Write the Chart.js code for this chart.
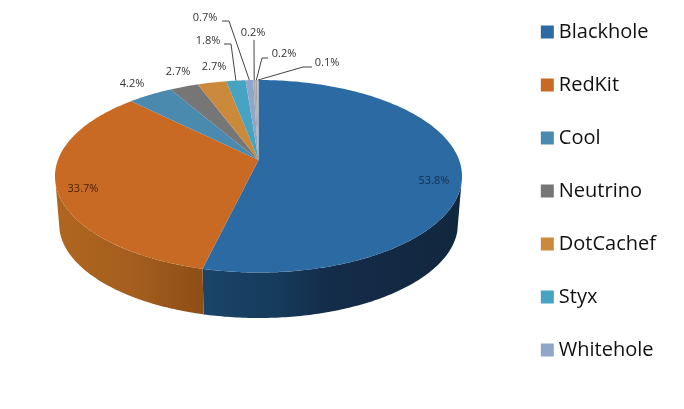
<!DOCTYPE html>
<html>
<head>
<meta charset="utf-8">
<style>
  html, body { margin: 0; padding: 0; background: #fff; }
  #wrap { position: relative; width: 684px; height: 409px; overflow: hidden; }
</style>
<script src="https://cdn.jsdelivr.net/npm/chart.js@4"></script>
</head>
<body>
<div id="wrap"><canvas id="pie3d"></canvas></div>
<script>
// Valores
const categories = ['Blackhole', 'RedKit', 'Cool', 'Neutrino', 'DotCachef', 'Styx', 'Whitehole', '', '', ''];
const shares = [53.8, 33.7, 4.2, 2.7, 2.7, 1.8, 0.7, 0.2, 0.2, 0.1];
const shareLabels = ['53.8%', '33.7%', '4.2%', '2.7%', '2.7%', '1.8%', '0.7%', '0.2%', '0.2%', '0.1%'];
const sliceColors = ['#2c6aa4', '#c96a24', '#4a8aae', '#767676', '#cb8a3b', '#47a3c2', '#8fa6c8', '#a9a9b4', '#a5a5a5', '#b5b5b5'];

// Posicion de cada etiqueta y codo de su linea guia
const labelPos = [[434, 181], [83, 189], [132, 84], [178, 72], [214, 67], [208, 41], [205, 18], [253, 33], [284, 54], [327, 63]];
const leaderPath = [null, null, null, null, null,
  [[224, 44], [231, 44]],
  [[222, 21], [229, 21]],
  [[254, 40]],
  [[268, 58], [262, 58]],
  [[312, 67], [303, 67]]];

// Sombreado de la pared lateral, de izquierda a derecha
const wallStops = {
  0: [[203, '#1a4569'], [280, '#163a5a'], [330, '#132c49'], [462, '#11273e']],
  1: [[55, '#b0661f'], [130, '#a55e1e'], [203, '#8e4e17']]
};

// Proyeccion en perspectiva del disco
const cx = 258.5, apexY = 160, tilt = 0.169, scaleX = 200.6, scaleY = 93.5;
const depth = 47.75, baseScale = 0.98;
const wallEdge = 0.25; // angulo donde la pared toca la silueta

function project(angle, s, dy) {
  const u = Math.cos(angle), v = Math.sin(angle);
  const den = 1 - tilt * v;
  return [cx + s * scaleX * u / den, apexY + dy + s * scaleY * v / den];
}

const pie3dPlugin = {
  id: 'pie3d',
  beforeDatasetDraw(chart) {
    const ctx = chart.ctx;
    const arcs = chart.getDatasetMeta(0).data;
    const colors = chart.data.datasets[0].backgroundColor;

    // Pared lateral, solo la mitad frontal
    arcs.forEach((arc, i) => {
      const a0 = Math.max(arc.startAngle, wallEdge), a1 = Math.min(arc.endAngle, Math.PI - wallEdge);
      if (a1 <= a0 || !wallStops[i]) return;
      const steps = 120;
      ctx.beginPath();
      for (let k = 0; k <= steps; k++) {
        const p = project(a0 + (a1 - a0) * k / steps, 1, 0);
        k ? ctx.lineTo(p[0], p[1]) : ctx.moveTo(p[0], p[1]);
      }
      for (let k = steps; k >= 0; k--) {
        const q = project(a0 + (a1 - a0) * k / steps, baseScale, depth);
        ctx.lineTo(q[0], q[1]);
      }
      ctx.closePath();
      const stops = wallStops[i];
      const x0 = stops[0][0], x1 = stops[stops.length - 1][0];
      const grad = ctx.createLinearGradient(x0, 0, x1, 0);
      stops.forEach(s => grad.addColorStop((s[0] - x0) / (x1 - x0), s[1]));
      ctx.fillStyle = grad;
      ctx.fill();
    });

    // Cara superior
    arcs.forEach((arc, i) => {
      ctx.beginPath();
      ctx.moveTo(cx, apexY);
      const steps = Math.max(4, Math.ceil((arc.endAngle - arc.startAngle) * 60));
      for (let k = 0; k <= steps; k++) {
        const p = project(arc.startAngle + (arc.endAngle - arc.startAngle) * k / steps, 1, 0);
        ctx.lineTo(p[0], p[1]);
      }
      ctx.closePath();
      ctx.fillStyle = colors[i];
      ctx.fill();
    });
    return false;
  },
  afterDatasetsDraw(chart) {
    const ctx = chart.ctx;
    const arcs = chart.getDatasetMeta(0).data;
    ctx.save();
    ctx.font = '11px "Open Sans"';
    ctx.textAlign = 'center';
    ctx.textBaseline = 'middle';
    arcs.forEach((arc, i) => {
      const mid = (arc.startAngle + arc.endAngle) / 2;
      if (leaderPath[i]) {
        const rim = project(mid, 1, 0);
        ctx.beginPath();
        leaderPath[i].forEach((pt, k) => k ? ctx.lineTo(pt[0], pt[1]) : ctx.moveTo(pt[0], pt[1]));
        ctx.lineTo(rim[0], rim[1]);
        ctx.strokeStyle = '#444';
        ctx.lineWidth = 1;
        ctx.stroke();
      }
      ctx.fillStyle = i === 0 ? '#12304f' : i === 1 ? '#4a2208' : '#333';
      ctx.fillText(shareLabels[i], labelPos[i][0], labelPos[i][1]);
    });
    ctx.restore();
  }
};

new Chart(document.getElementById('pie3d'), {
  type: 'pie',
  data: {
    labels: categories,
    datasets: [{ data: shares, backgroundColor: sliceColors, borderWidth: 0 }]
  },
  plugins: [pie3dPlugin],
  options: {
    responsive: true,
    maintainAspectRatio: false,
    animation: false,
    layout: { padding: { top: -11, right: 18, bottom: 0, left: 0 } },
    plugins: {
      tooltip: { enabled: false },
      legend: {
        position: 'right',
        align: 'start',
        labels: {
          filter: item => item.text !== '',
          usePointStyle: true,
          pointStyle: 'rect',
          boxWidth: 3,
          boxHeight: 13,
          padding: 33,
          color: '#111',
          font: { family: '"Open Sans"', size: 20 }
        }
      }
    }
  }
});
</script>
</body>
</html>
